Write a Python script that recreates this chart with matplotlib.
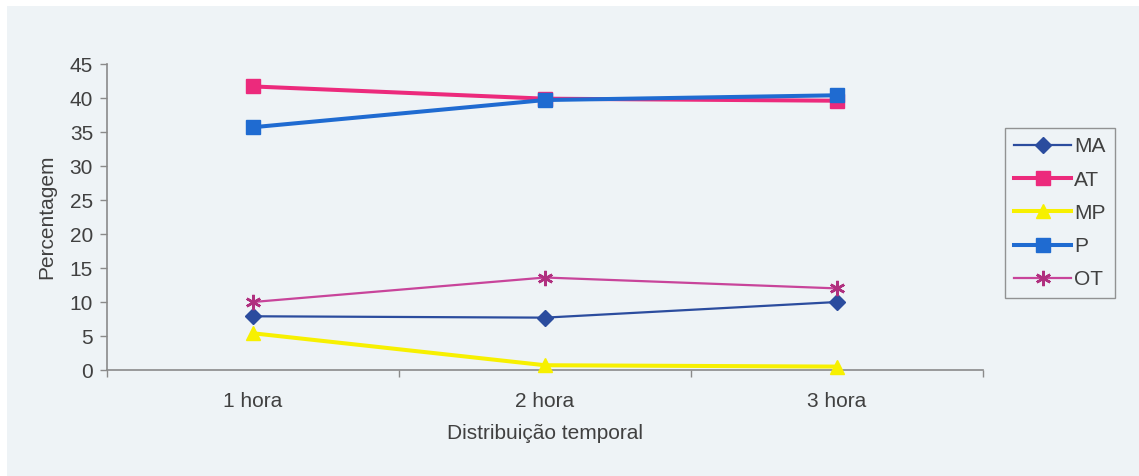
import matplotlib
matplotlib.use("Agg")
import matplotlib.pyplot as plt
from matplotlib.patches import Rectangle

plt.rcParams["font.family"] = ["Liberation Sans", "DejaVu Sans"]

# Data
categories = ["1 hora", "2 hora", "3 hora"]
series_names = ["MA", "AT", "MP", "P", "OT"]
ma = [7.9, 7.7, 10.0]
at = [41.7, 39.9, 39.6]
mp = [5.4, 0.7, 0.5]
p = [35.7, 39.7, 40.4]
ot = [10.0, 13.6, 12.0]
y_ticks = [0, 5, 10, 15, 20, 25, 30, 35, 40, 45]

bg = "#eef3f6"
text_col = "#404040"
axis_col = "#8a8a8a"
fs = 15

fig = plt.figure(figsize=(11.39, 4.76), dpi=100, facecolor=bg)
# thin white margin along the top and left edges
fig.patches.append(Rectangle((0, 0), 7 / 1139, 1, transform=fig.transFigure,
                             facecolor="white", edgecolor="none", zorder=0))
fig.patches.append(Rectangle((0, 1 - 6 / 476), 1, 6 / 476, transform=fig.transFigure,
                             facecolor="white", edgecolor="none", zorder=0))

ax = fig.add_axes([107 / 1139, 1 - 370 / 476, (983 - 107) / 1139, (370 - 64) / 476])
ax.set_facecolor(bg)

x = list(range(len(categories)))
styles = {
    "MA": dict(color="#2b4c9e", lw=1.6, marker="D", ms=8, mec="#2b4c9e"),
    "AT": dict(color="#ec2a7c", lw=2.9, marker="s", ms=10, mec="#ec2a7c"),
    "MP": dict(color="#f7f000", lw=2.9, marker="^", ms=10, mec="#f7f000"),
    "P": dict(color="#1f6bd1", lw=2.9, marker="s", ms=10, mec="#1f6bd1"),
    "OT": dict(color="#c8449a", lw=1.6, marker=(6, 2, 0), ms=11, mec="#b0307f", mew=1.8),
}
values = {"MA": ma, "AT": at, "MP": mp, "P": p, "OT": ot}
for name in series_names:
    st = styles[name]
    ax.plot(x, values[name], label=name, color=st["color"], lw=st["lw"],
            marker=st["marker"], ms=st["ms"], mfc=st["mec"], mec=st["mec"],
            mew=st.get("mew", 1.0), solid_joinstyle="round", clip_on=False, zorder=3)

ax.set_xlim(-0.5, 2.5)
ax.set_ylim(0, 45)
ax.set_yticks(y_ticks)
ax.set_xticks(x)
ax.set_xticklabels(categories)
ax.set_xticks([-0.5, 0.5, 1.5, 2.5], minor=True)
ax.tick_params(axis="x", which="major", length=0, pad=16, labelsize=fs, labelcolor=text_col)
ax.tick_params(axis="x", which="minor", length=5, color=axis_col, width=1)
ax.tick_params(axis="y", length=5, color=axis_col, width=1, pad=5,
               labelsize=fs, labelcolor=text_col)

for s in ("top", "right"):
    ax.spines[s].set_visible(False)
for s in ("left", "bottom"):
    ax.spines[s].set_color(axis_col)
    ax.spines[s].set_linewidth(1.2)

ax.set_ylabel("Percentagem", fontsize=fs, color=text_col, labelpad=10)
ax.set_xlabel("Distribuição temporal", fontsize=fs, color=text_col, labelpad=9)

leg = fig.legend(loc="upper left", bbox_to_anchor=(1005 / 1139, 1 - 128 / 476),
                 fontsize=fs, frameon=True, fancybox=False, borderaxespad=0,
                 handlelength=2.7, handletextpad=0.15, labelspacing=0.68,
                 borderpad=0.45)
leg.get_frame().set_edgecolor("#7a7a7a")
leg.get_frame().set_facecolor(bg)
leg.get_frame().set_linewidth(1.0)
for t in leg.get_texts():
    t.set_color(text_col)

fig.savefig("out.png", dpi=100, facecolor=bg)
